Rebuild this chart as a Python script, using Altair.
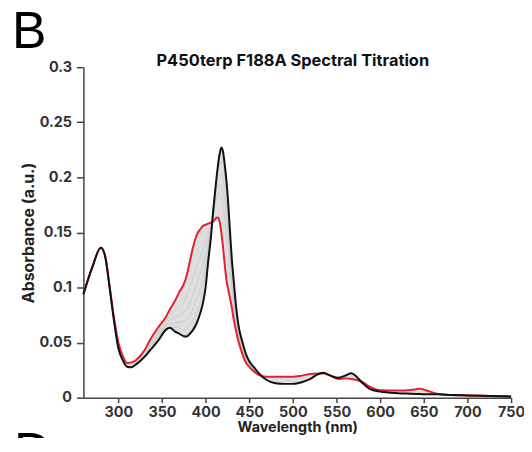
import altair as alt
import pandas as pd

wavelength = [260,270,280,285,290,295,300,305,310,315,320,330,336,345,355,359,365,370,375,378,
              382,386,390,394,397,400,403,406,409,412,414,416,418,420,422,424,426,428,430,432,
              435,438,442,446,450,455,460,470,480,490,500,510,520,528,535,543,552,560,567,573,
              580,588,600,620,635,645,655,665,680,700,725,750]

black_abs = [0.094,0.118,0.136,0.128,0.100,0.070,0.045,0.034,0.028,0.0275,0.030,0.037,0.0426,0.051,0.062,0.0635,0.060,0.058,0.0558,0.0555,
             0.058,0.062,0.068,0.077,0.086,0.100,0.124,0.145,0.172,0.196,0.210,0.221,0.227,0.223,0.211,0.196,0.175,0.150,0.126,0.108,
             0.082,0.064,0.051,0.040,0.033,0.028,0.023,0.016,0.013,0.0125,0.0125,0.014,0.017,0.021,0.0225,0.020,0.018,0.020,0.0222,0.019,
             0.013,0.008,0.0055,0.004,0.0036,0.0033,0.003,0.003,0.0025,0.002,0.0015,0.001]

red_abs = [0.094,0.118,0.136,0.128,0.101,0.073,0.050,0.038,0.0315,0.032,0.034,0.043,0.052,0.063,0.074,0.080,0.088,0.096,0.103,0.110,
           0.124,0.138,0.148,0.153,0.156,0.157,0.158,0.159,0.160,0.163,0.1636,0.160,0.150,0.136,0.120,0.106,0.098,0.090,0.082,0.072,
           0.060,0.050,0.040,0.032,0.028,0.024,0.021,0.019,0.019,0.019,0.019,0.020,0.0215,0.022,0.022,0.020,0.017,0.0175,0.017,0.016,
           0.014,0.010,0.0068,0.0065,0.007,0.008,0.006,0.0036,0.0025,0.002,0.0015,0.001]

# intermediate titration spectra (grey), read around the Soret region
mid_wavelength = [320,336,345,355,365,375,382,390,397,403,409,414,418,422,426,430,435,442,450,460]
grey_1 = [0.031,0.044,0.053,0.064,0.064,0.062,0.066,0.078,0.097,0.131,0.174,0.205,0.214,0.200,0.167,0.121,0.078,0.048,0.032,0.022]
grey_2 = [0.032,0.046,0.055,0.066,0.068,0.069,0.075,0.090,0.108,0.137,0.174,0.199,0.203,0.189,0.158,0.114,0.074,0.046,0.031,0.022]
grey_3 = [0.032,0.047,0.057,0.068,0.073,0.077,0.086,0.104,0.121,0.143,0.172,0.192,0.193,0.177,0.149,0.108,0.070,0.044,0.030,0.022]
grey_4 = [0.033,0.049,0.059,0.070,0.079,0.087,0.100,0.120,0.135,0.149,0.168,0.184,0.181,0.163,0.136,0.100,0.066,0.042,0.029,0.021]

x_ticks = [300, 350, 400, 450, 500, 550, 600, 650, 700, 750]
y_ticks = [0, 0.05, 0.1, 0.15, 0.2, 0.25, 0.3]

df = pd.DataFrame({"wl": wavelength, "black": black_abs, "red": red_abs})
grey_rows = []
for name, vals in [("g1", grey_1), ("g2", grey_2), ("g3", grey_3), ("g4", grey_4)]:
    for w, v in zip(mid_wavelength, vals):
        grey_rows.append({"wl": w, "abs": v, "series": name})
gdf = pd.DataFrame(grey_rows)

FONT = "Inter"
PANEL_FONT = "Liberation Sans"

xs = alt.Scale(domain=[260, 750], nice=False, zero=False)
ys = alt.Scale(domain=[0, 0.3], nice=False)

x_axis = alt.Axis(values=x_ticks, title="Wavelength (nm)", grid=False, tickSize=5,
                  labelPadding=3, titlePadding=2, labelFontSize=14.5, titleFontSize=14.5,
                  labelFontWeight="bold", titleFontWeight="bold", labelFont=FONT, titleFont=FONT,
                  domainColor="#444444", tickColor="#444444", labelColor="#333333", titleColor="#222222",
                  domainWidth=1.5, tickWidth=1.5, labelFlush=False)
y_axis = alt.Axis(values=y_ticks, format="~g", title="Absorbance (a.u.)", grid=False, tickSize=7,
                  labelPadding=5, titlePadding=2, labelFontSize=14.5, titleFontSize=16,
                  labelFontWeight="bold", titleFontWeight="bold", labelFont=FONT, titleFont=FONT,
                  domainColor="#444444", tickColor="#444444", labelColor="#333333", titleColor="#222222",
                  domainWidth=1.5, tickWidth=1.5, labelFlush=False)

base = alt.Chart(df)
band = base.mark_area(color="#dedede", opacity=1, interpolate="monotone").encode(
    x=alt.X("wl:Q", scale=xs, axis=x_axis),
    y=alt.Y("black:Q", scale=ys, axis=y_axis),
    y2="red:Q",
)
greys = alt.Chart(gdf).mark_line(color="#c9c9c9", strokeWidth=0.8, interpolate="monotone").encode(
    x=alt.X("wl:Q", scale=xs), y=alt.Y("abs:Q", scale=ys), detail="series:N"
)
red_line = base.mark_line(color="#e3222b", strokeWidth=2, interpolate="monotone").encode(
    x=alt.X("wl:Q", scale=xs), y=alt.Y("red:Q", scale=ys)
)
black_line = base.mark_line(color="#111111", strokeWidth=2, interpolate="monotone").encode(
    x=alt.X("wl:Q", scale=xs), y=alt.Y("black:Q", scale=ys)
)

title_df = pd.DataFrame({"t": ["P450terp F188A Spectral Titration"]})
title_txt = alt.Chart(title_df).mark_text(font=FONT, fontSize=16.5, fontWeight="bold", align="center",
                                          baseline="alphabetic", color="#111111").encode(
    x=alt.value(211), y=alt.value(-1), text="t:N")

b_df = pd.DataFrame({"t": ["B"]})
b_txt = alt.Chart(b_df).mark_text(font=PANEL_FONT, fontSize=52, align="left", baseline="alphabetic",
                                  color="#000000").encode(x=alt.value(-72), y=alt.value(-19), text="t:N")
d_df = pd.DataFrame({"t": ["D"]})
d_txt = alt.Chart(d_df).mark_text(font=PANEL_FONT, fontSize=52, align="left", baseline="alphabetic",
                                  color="#000000").encode(x=alt.value(-70), y=alt.value(405), text="t:N")

chart = alt.layer(band, greys, red_line, black_line, title_txt, b_txt, d_txt).properties(
    width=431, height=333,
    autosize=alt.AutoSizeParams(type="none"),
    padding={"left": 76, "top": 58, "right": 13, "bottom": 39},
).configure_view(stroke=None)

chart.save("out.html", embed_options={"renderer": "svg", "actions": False})
